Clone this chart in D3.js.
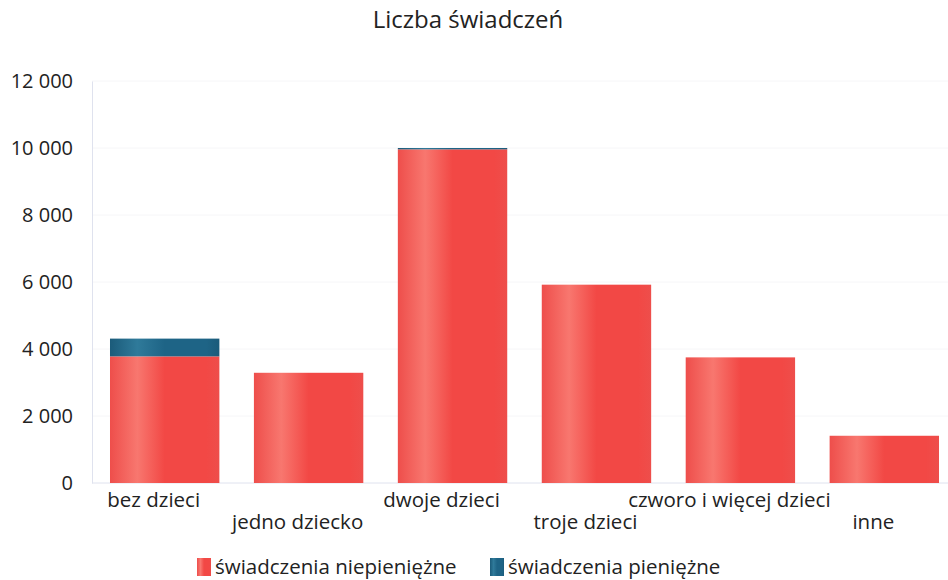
<!DOCTYPE html>
<html>
<head>
<meta charset="utf-8">
<script src="https://cdn.jsdelivr.net/npm/d3@7"></script>
<style>
  body { margin: 0; background: #fff; }
  svg text { font-family: "Open Sans", "Noto Sans", sans-serif; fill: #222; }
</style>
</head>
<body>
<div id="app"></div>
<script>
// data
const categories = ['bez dzieci', 'jedno dziecko', 'dwoje dzieci', 'troje dzieci', 'czworo i więcej dzieci', 'inne']
const niepieniezne = [3780, 3290, 9960, 5920, 3750, 1410]
const pieniezne = [530, 0, 40, 0, 0, 0]
const seriesNames = ['świadczenia niepieniężne', 'świadczenia pieniężne']
const yTicks = [0, 2000, 4000, 6000, 8000, 10000, 12000]

const size = { width: 948, height: 580 }
const margin = { top: 81, bottom: 97, left: 92 }

const svg = d3.select('#app').append('svg')
  .attr('width', size.width)
  .attr('height', size.height)

// cylinder-ish shading like the original
const defs = svg.append('defs')
function shade(id, edge, light, mid) {
  const g = defs.append('linearGradient').attr('id', id)
    .attr('x1', '0').attr('x2', '1').attr('y1', '0').attr('y2', '0')
  const stops = [[0, edge], [0.25, light], [0.5, mid], [0.88, mid], [1, edge]]
  stops.forEach(s => g.append('stop').attr('offset', s[0]).attr('stop-color', s[1]))
}
shade('gRed', '#ee4e4b', '#f8776f', '#f24845')
shade('gBlue', '#1b5b7a', '#2f7a9a', '#1e6486')

const y = d3.scaleLinear().domain([0, 12000]).range([size.height - margin.bottom, margin.top])
const x = d3.scaleBand().domain(categories)
  .range([margin.left, margin.left + 865])
  .paddingInner(0.24).paddingOuter(0.125)

// faint grid
svg.append('g').selectAll('line').data(yTicks.slice(1)).join('line')
  .attr('x1', margin.left).attr('x2', size.width)
  .attr('y1', d => y(d)).attr('y2', d => y(d))
  .attr('stroke', '#f6f6f8')

// y axis
const fmt = d => d3.format(',')(d).replace(/,/g, ' ')
const yAxis = svg.append('g')
  .attr('transform', `translate(${margin.left},0)`)
  .call(d3.axisLeft(y).tickValues(yTicks).tickFormat(fmt).tickSize(0).tickPadding(19))
yAxis.select('.domain').attr('stroke', '#dfe2ee')
yAxis.selectAll('text').attr('font-size', 20).style('fill', '#222')

// baseline
svg.append('line')
  .attr('x1', margin.left).attr('x2', size.width)
  .attr('y1', y(0)).attr('y2', y(0))
  .attr('stroke', '#dfe2ee')

// stacked bars
const rows = categories.map((c, i) => ({ cat: c, a: niepieniezne[i], b: pieniezne[i] }))
const stack = d3.stack().keys(['a', 'b'])(rows)
const fills = ['url(#gRed)', 'url(#gBlue)']

svg.append('g').selectAll('g').data(stack).join('g')
  .attr('fill', (d, i) => fills[i])
  .selectAll('rect').data(d => d).join('rect')
  .attr('x', d => x(d.data.cat))
  .attr('width', x.bandwidth())
  .attr('y', d => y(d[1]))
  .attr('height', d => y(d[0]) - y(d[1]))

// category labels, staggered
svg.append('g').selectAll('text').data(categories).join('text')
  .attr('x', d => x(d) + x.bandwidth() / 2 - 11)
  .attr('y', (d, i) => i % 2 === 0 ? 507 : 529)
  .attr('text-anchor', 'middle')
  .attr('font-size', 20.5)
  .text(d => d)

// title
svg.append('text')
  .attr('x', 468).attr('y', 28)
  .attr('text-anchor', 'middle')
  .attr('font-size', 24)
  .text('Liczba świadczeń')

// legend
const legendX = [197, 490]
const legend = svg.append('g').selectAll('g').data(seriesNames).join('g')
  .attr('transform', (d, i) => `translate(${legendX[i]},558)`)
legend.append('rect')
  .attr('width', 14).attr('height', 18)
  .attr('fill', (d, i) => fills[i])
legend.append('text')
  .attr('x', 18).attr('y', 16)
  .attr('font-size', 20.5)
  .text(d => d)
</script>
</body>
</html>
